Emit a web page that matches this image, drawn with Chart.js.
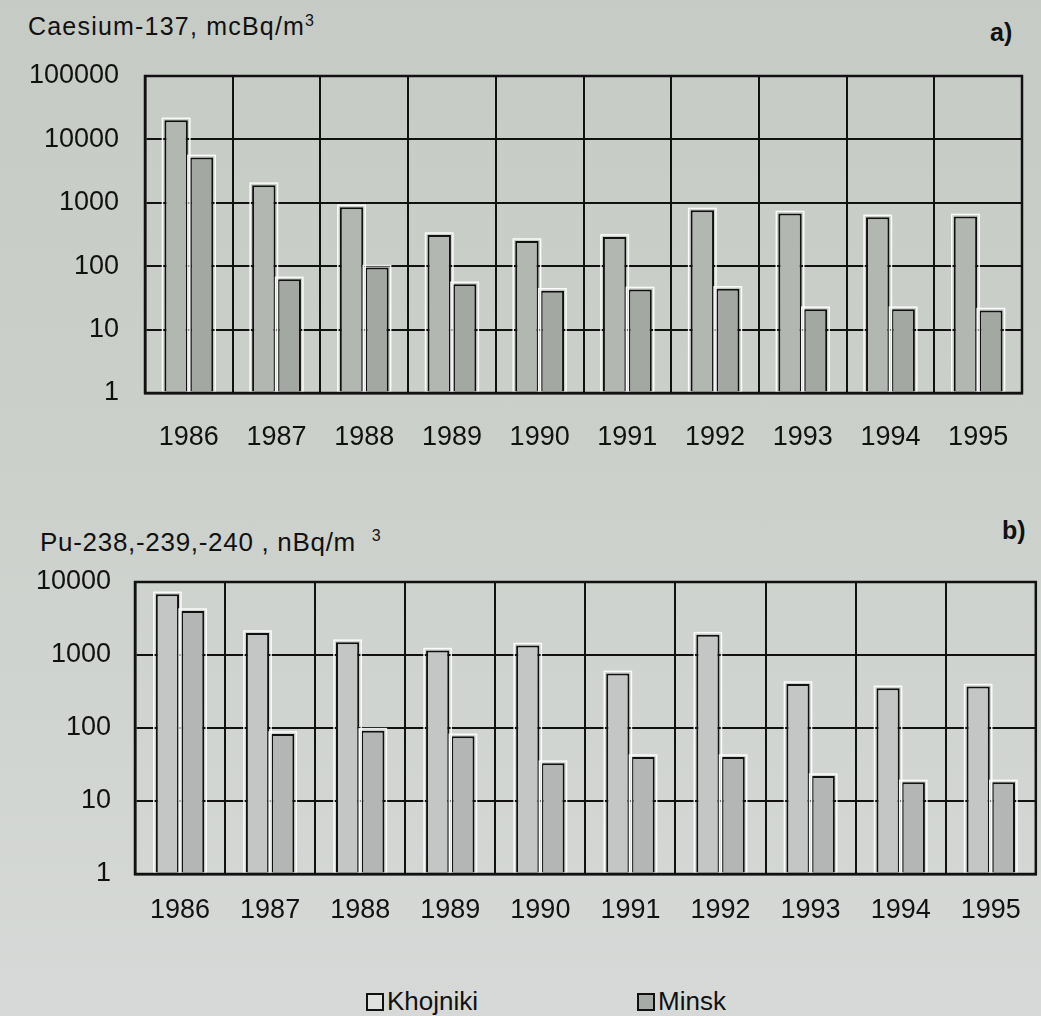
<!DOCTYPE html>
<html>
<head>
<meta charset="utf-8">
<script src="https://cdn.jsdelivr.net/npm/chart.js@4.4.1/dist/chart.umd.min.js"></script>
<style>
  html, body { margin: 0; padding: 0; }
  body {
    width: 1041px; height: 1016px; position: relative; overflow: hidden;
    background: linear-gradient(180deg, #c6cbc5 0%, #ccd0cb 45%, #d6d9d7 100%);
    font-family: "Liberation Sans", Arial, sans-serif; color: #111;
  }
  .wrap { position: absolute; left: 0; width: 1041px; }
  .ttl { position: absolute; font-size: 25px; white-space: nowrap; }
  .ttl sup { font-size: 16px; }
  .lbl { font-weight: bold; }
  .legend { position: absolute; top: 986px; font-size: 26px; display: flex; align-items: center; }
  .legend .box { width: 14px; height: 14px; border: 2px solid #111; margin-right: 3px; }
</style>
</head>
<body>
<div class="ttl" style="left:28px; top:12px; letter-spacing:1.2px;">Caesium-137, mcBq/m<sup>3</sup></div>
<div class="ttl lbl" style="left:990px; top:18px;">a)</div>
<div class="ttl" style="left:40px; top:527px; font-size:26px; letter-spacing:0.7px;">Pu-238,-239,-240 , nBq/m &nbsp;<sup>3</sup></div>
<div class="ttl lbl" style="left:1002px; top:516px;">b)</div>

<div class="wrap" style="top:0; height:470px;"><canvas id="ca" width="1041" height="470"></canvas></div>
<div class="wrap" style="top:520px; height:440px;"><canvas id="cb" width="1041" height="440"></canvas></div>

<div class="legend" id="legK" style="left:366px;"><span class="box" style="background:#dfe2df"></span><span>Khojniki</span></div>
<div class="legend" id="legM" style="left:637px;"><span class="box" style="background:#a7aba7"></span><span>Minsk</span></div>

<script>
// ---- data ----
const years = ['1986','1987','1988','1989','1990','1991','1992','1993','1994','1995'];
const seriesNames = ['Khojniki', 'Minsk'];

// a) Caesium-137, mcBq/m3
const csKhojniki = [20000, 1900, 850, 310, 250, 290, 760, 680, 590, 610];
const csMinsk    = [5200, 62, 95, 52, 41, 43, 44, 21, 21, 20];
const csTicks    = [1, 10, 100, 1000, 10000, 100000];

// b) Pu-238,-239,-240, nBq/m3
const puKhojniki = [6800, 2000, 1500, 1150, 1350, 560, 1900, 400, 350, 370];
const puMinsk    = [4000, 83, 92, 77, 33, 40, 40, 22, 18, 18];
const puTicks    = [1, 10, 100, 1000, 10000];

// ---- plugins ----
const haloPlugin = {
  id: 'halo',
  afterDatasetsDraw(chart) {
    const ctx = chart.ctx;
    ctx.save();
    ctx.strokeStyle = 'rgba(255,255,255,0.9)';
    ctx.lineWidth = 1.5;
    chart.data.datasets.forEach((ds, i) => {
      chart.getDatasetMeta(i).data.forEach(bar => {
        const p = bar.getProps(['x','y','base','width'], true);
        const l = p.x - p.width/2 - 2, r = p.x + p.width/2 + 2;
        ctx.strokeRect(l, p.y - 2, r - l, p.base - p.y + 1);
      });
    });
    ctx.restore();
  }
};
const framePlugin = {
  id: 'frame',
  afterDraw(chart) {
    const a = chart.chartArea, ctx = chart.ctx;
    ctx.save();
    ctx.strokeStyle = '#111';
    ctx.lineWidth = 2.5;
    ctx.strokeRect(a.left, a.top, a.right - a.left, a.bottom - a.top);
    ctx.restore();
  }
};

function makeChart(id, kData, mData, tickVals, cfg) {
  return new Chart(document.getElementById(id), {
    type: 'bar',
    data: {
      labels: years,
      datasets: [
        { label: seriesNames[0], data: kData, backgroundColor: cfg.kColor, borderColor: '#111', borderWidth: 2, borderSkipped: false },
        { label: seriesNames[1], data: mData, backgroundColor: cfg.mColor, borderColor: '#111', borderWidth: 2, borderSkipped: false }
      ]
    },
    options: {
      responsive: false,
      animation: false,
      layout: { padding: { top: cfg.top, right: cfg.right, left: 0, bottom: 0 } },
      plugins: { legend: { display: false }, tooltip: { enabled: false }, title: { display: false } },
      datasets: { bar: { categoryPercentage: cfg.catPct, barPercentage: 0.92 } },
      scales: {
        x: {
          type: 'category',
          offset: true,
          grid: { offset: true, color: '#111', lineWidth: 2, drawTicks: false },
          border: { color: '#111', width: 2.5 },
          ticks: { color: '#111', font: { family: 'Liberation Sans', size: cfg.xFont }, padding: cfg.xPad, maxRotation: 0, autoSkip: false },
          afterFit(s) { s.height = cfg.xHeight; }
        },
        y: {
          type: 'logarithmic',
          min: tickVals[0],
          max: tickVals[tickVals.length - 1],
          afterBuildTicks(s) { s.ticks = tickVals.map(v => ({ value: v })); },
          grid: { color: '#111', lineWidth: 2, drawTicks: false },
          border: { color: '#111', width: 2.5 },
          ticks: {
            color: '#111', font: { family: 'Liberation Sans', size: cfg.yFont }, padding: cfg.yPad,
            callback: (v) => String(v)
          },
          afterFit(s) { s.width = cfg.yWidth; }
        }
      }
    },
    plugins: [haloPlugin, framePlugin]
  });
}

makeChart('ca', csKhojniki, csMinsk, csTicks, {
  kColor: '#b3b7b2', mColor: '#a4a8a3',
  top: 76, right: 19, catPct: 0.58,
  xFont: 27, xPad: 28, xHeight: 77,
  yFont: 27, yPad: 26, yWidth: 145
});
makeChart('cb', puKhojniki, puMinsk, puTicks, {
  kColor: '#c3c6c5', mColor: '#b3b6b5',
  top: 62, right: 4, catPct: 0.56,
  xFont: 27, xPad: 20, xHeight: 86,
  yFont: 27, yPad: 24, yWidth: 135
});
</script>
</body>
</html>
